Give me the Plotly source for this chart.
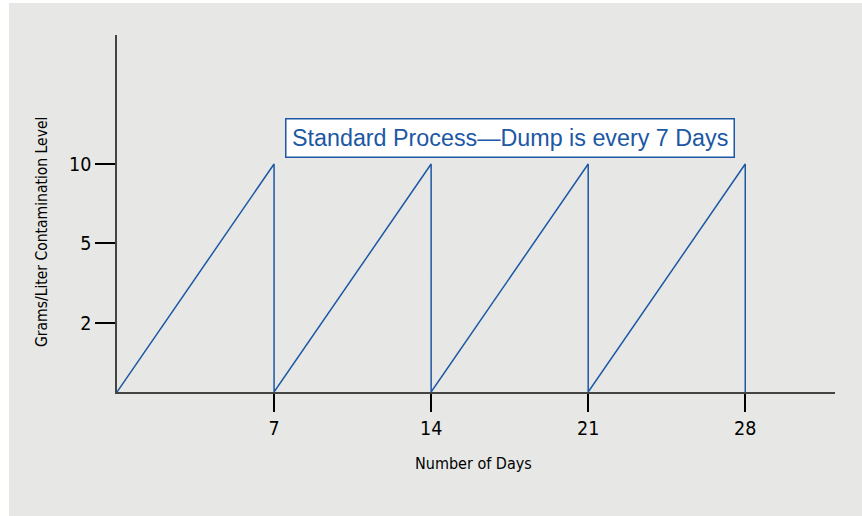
import plotly.graph_objects as go

# Data
days = [0, 7, 7, 14, 14, 21, 21, 28, 28]
contamination = [0, 10, 0, 10, 0, 10, 0, 10, 0]
x_tick_vals = [7, 14, 21, 28]
x_tick_text = ["7", "14", "21", "28"]
y_tick_labels = ["2", "5", "10"]
y_tick_pos = [3.03, 6.53, 10]

title_text = "Standard Process\u2014Dump is every 7 Days"
x_title = "Number of Days"
y_title = "Grams/Liter Contamination Level"

BLUE = "#1c58a4"
BG = "#e7e8e6"
NARROW = "Liberation Sans Narrow, Arial Narrow, DejaVu Sans Condensed, sans-serif"

W, H = 862, 516
L, R, T, B = 117, 27, 35, 124
pw, ph = W - L - R, H - T - B

fig = go.Figure()
fig.add_trace(go.Scatter(x=days, y=contamination, mode="lines",
                         line=dict(color=BLUE, width=1.5), hoverinfo="skip",
                         showlegend=False))

fig.update_layout(
    width=W, height=H,
    margin=dict(l=L, r=R, t=T, b=B, pad=0),
    paper_bgcolor=BG, plot_bgcolor=BG,
    xaxis=dict(range=[0, 32], showgrid=False, zeroline=False,
               showline=True, linecolor="#444444", linewidth=1.5,
               tickmode="array", tickvals=x_tick_vals, ticktext=x_tick_text,
               ticks="outside", ticklen=18, tickwidth=2.2, tickcolor="black",
               tickfont=dict(family=NARROW, size=19.5, color="black")),
    yaxis=dict(range=[0, 15.66], showgrid=False, zeroline=False,
               showline=True, linecolor="#444444", linewidth=1.5,
               tickmode="array", tickvals=y_tick_pos, ticktext=y_tick_labels,
               ticks="outside", ticklen=20, tickwidth=2.2, tickcolor="black",
               tickfont=dict(family=NARROW, size=19.5, color="black")),
    shapes=[
        dict(type="rect", xref="paper", yref="paper", layer="below",
             x0=-L / pw, x1=(9 - L) / pw, y0=-B / ph, y1=1 + T / ph,
             fillcolor="white", line=dict(width=0)),
        dict(type="rect", xref="paper", yref="paper", layer="below",
             x0=-L / pw, x1=1 + R / pw, y0=1 + (T - 3) / ph, y1=1 + T / ph,
             fillcolor="white", line=dict(width=0)),
    ],
    annotations=[
        dict(text=title_text, x=17.51, y=11.14, xref="x", yref="y",
             showarrow=False, font=dict(family="Liberation Sans, Arial, sans-serif",
                                        size=23.3, color=BLUE),
             bgcolor="white", bordercolor=BLUE, borderwidth=1.5, borderpad=5.5),
        dict(text=x_title, x=(473 - L) / pw, y=-(463 - (H - B)) / ph,
             xref="paper", yref="paper", showarrow=False,
             xanchor="center", yanchor="middle",
             font=dict(family=NARROW, size=16, color="black")),
        dict(text=y_title, x=(42 - L) / pw, y=((H - B) - 232) / ph,
             xref="paper", yref="paper", showarrow=False, textangle=-90,
             xanchor="center", yanchor="middle",
             font=dict(family=NARROW, size=15.5, color="black")),
    ],
)

fig.write_html("out.html", config={"displayModeBar": False},
               post_script="document.body.style.margin='0px';document.body.style.overflow='hidden';")
